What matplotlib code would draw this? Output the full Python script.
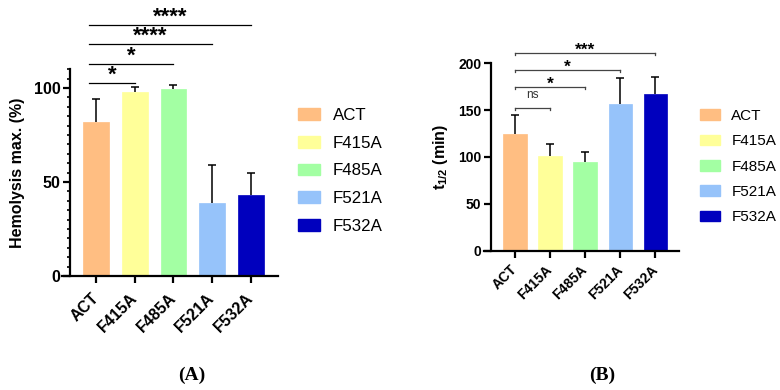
import matplotlib.pyplot as plt
from matplotlib.patches import Patch
import numpy as np

plt.rcParams['font.family'] = ['Liberation Sans', 'DejaVu Sans']
plt.rcParams['mathtext.fontset'] = 'custom'
plt.rcParams['mathtext.rm'] = 'Liberation Sans:bold'
plt.rcParams['mathtext.bf'] = 'Liberation Sans:bold'

# data
groups = ['ACT', 'F415A', 'F485A', 'F521A', 'F532A']
colors = ['#FFBE82', '#FFFF99', '#A3FFA3', '#96C3FA', '#0000BE']

hemo_mean = [82, 98, 99.3, 38.7, 43]
hemo_err = [12.3, 2.7, 2.3, 20.3, 12]
hemo_sig_to = [1, 2, 3, 4]
hemo_sig_txt = ['*', '*', '****', '****']
hemo_sig_y = [102.8, 113, 123.4, 133.5]

thalf_mean = [124.3, 101, 94.9, 157, 167]
thalf_err = [20.3, 12.4, 10.6, 27.4, 18.8]
thalf_sig_to = [1, 2, 3, 4]
thalf_sig_txt = ['ns', '*', '*', '***']
thalf_sig_y = [152.4, 174.8, 193, 211]

W, H = 780, 390
fig = plt.figure(figsize=(W / 100, H / 100), dpi=100)


def px_rect(x0, x1, y_top, y_bot):
    return [x0 / W, 1 - y_bot / H, (x1 - x0) / W, (y_bot - y_top) / H]


def panel(rect, means, errs, ylim, yticks, ylabel, minor, xlim, spine_x,
          sig_to, sig_txt, sig_y, start_off, end_ticks, star_size, star_off,
          line_col, tsize, xpad):
    ax = fig.add_axes(rect)
    x = np.arange(len(groups))
    ax.bar(x, means, width=0.67, color=colors, edgecolor=colors, linewidth=0.5, zorder=2)
    eb = ax.errorbar(x, means, yerr=[np.zeros(len(errs)), errs], fmt='none',
                     ecolor='black', elinewidth=1.1, capsize=2.6, capthick=1.1, zorder=3)
    eb[1][0].set_visible(False)

    ax.set_xlim(*xlim)
    ax.set_ylim(*ylim)
    ax.spines['top'].set_visible(False)
    ax.spines['right'].set_visible(False)
    ax.spines['left'].set_position(('data', spine_x))
    for s in ['left', 'bottom']:
        ax.spines[s].set_linewidth(1.6)
    ax.set_yticks(yticks)
    if minor:
        ax.set_yticks(np.arange(0, ylim[1] + 0.1, minor), minor=True)
        ax.tick_params(axis='y', which='minor', length=2.5, width=1.2)
    ax.tick_params(axis='both', which='major', length=5, width=1.6, labelsize=tsize, pad=2)
    ax.set_xticks(x)
    ax.set_xticklabels(groups, rotation=45, ha='right', va='center', rotation_mode='anchor')
    for lab in ax.get_xticklabels() + ax.get_yticklabels():
        lab.set_fontweight('bold')
    ax.tick_params(axis='x', pad=xpad)
    ax.set_ylabel(ylabel, fontsize=11.5, fontweight='bold', labelpad=6)

    # significance brackets
    span = ylim[1] - ylim[0]
    tk = 0.013 * span
    for j, txt, y in zip(sig_to, sig_txt, sig_y):
        x0 = start_off
        ax.plot([x0, j], [y, y], color=line_col, lw=0.9, clip_on=False)
        if end_ticks:
            ax.plot([j, j], [y, y - tk], color=line_col, lw=0.9, clip_on=False)
            ax.plot([x0, x0], [y, y - tk], color=line_col, lw=0.9, clip_on=False)
        if txt == 'ns':
            ax.text((x0 + j) / 2, y + 0.035 * span, txt, ha='center', va='bottom',
                    fontsize=8.5, color='#333333', clip_on=False)
        else:
            ax.text((x0 + j) / 2, y - star_off * span, txt, ha='center', va='bottom',
                    fontsize=star_size, fontweight='bold', clip_on=False)
    return ax


axA = panel(px_rect(62, 278, 69.2, 276), hemo_mean, hemo_err, (0, 110), [0, 50, 100],
            'Hemolysis max. (%)', 5, (-0.88, 4.70), -0.67,
            hemo_sig_to, hemo_sig_txt, hemo_sig_y, -0.18, False, 16, 0.015,
            'black', 11.5, 9)

axB = panel(px_rect(484, 679, 63.3, 250.7), thalf_mean, thalf_err, (0, 200),
            [0, 50, 100, 150, 200], r'$\mathbf{t_{1/2}}$ (min)', None, (-0.88, 4.67), -0.68,
            thalf_sig_to, thalf_sig_txt, thalf_sig_y, 0.0, True, 12.5, 0.028,
            '#444444', 10, 7)

handles = [Patch(facecolor=c, edgecolor=c) for c in colors]
fig.legend(handles, groups, loc='upper left', bbox_to_anchor=(298 / W, 1 - 108 / H),
           frameon=False, fontsize=12.2, handlelength=1.3, handleheight=0.7,
           handletextpad=0.75, labelspacing=0.75, borderpad=0, borderaxespad=0)
fig.legend(handles, groups, loc='upper left', bbox_to_anchor=(700 / W, 1 - 109 / H),
           frameon=False, fontsize=11, handlelength=1.3, handleheight=0.7,
           handletextpad=0.75, labelspacing=0.74, borderpad=0, borderaxespad=0)

fig.text(192 / W, 1 - 375 / H, '(A)', ha='center', va='center', fontsize=14,
         fontweight='bold', family=['Liberation Serif', 'DejaVu Serif'])
fig.text(602 / W, 1 - 375 / H, '(B)', ha='center', va='center', fontsize=14,
         fontweight='bold', family=['Liberation Serif', 'DejaVu Serif'])

fig.savefig('out.png', dpi=100)
